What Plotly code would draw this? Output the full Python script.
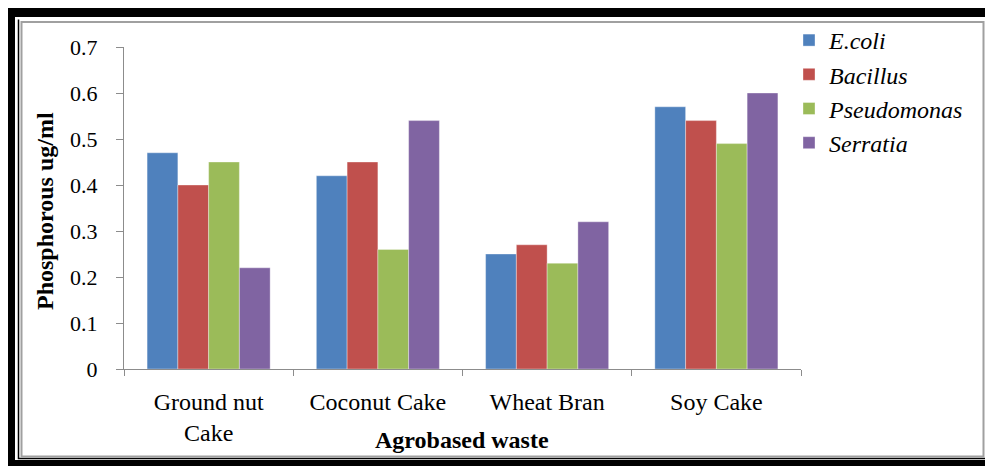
import plotly.graph_objects as go

# Phosphorous released by each bacterium on agro-based waste substrates
categories = ["Ground nut<br>Cake", "Coconut Cake", "Wheat Bran", "Soy Cake"]
series_names = ["E.coli", "Bacillus", "Pseudomonas", "Serratia"]
ecoli = [0.47, 0.42, 0.25, 0.57]
bacillus = [0.40, 0.45, 0.27, 0.54]
pseudomonas = [0.45, 0.26, 0.23, 0.49]
serratia = [0.22, 0.54, 0.32, 0.60]
y_ticks = [0, 0.1, 0.2, 0.3, 0.4, 0.5, 0.6, 0.7]

colors = ["#4F81BD", "#C0504D", "#9BBB59", "#8064A2"]
values = [ecoli, bacillus, pseudomonas, serratia]

W, H = 985, 466
L, R, T, B = 124, 801, 47, 369  # plot area in pixels

SERIF = "Liberation Serif, Times New Roman, serif"
AXIS_GREY = "#8C8C8C"

fig = go.Figure()
for name, vals, col in zip(series_names, values, colors):
    fig.add_trace(go.Bar(
        name=f"<i>{name}</i>",
        x=categories,
        y=vals,
        marker=dict(color=col, line=dict(color="rgba(255,255,255,0.35)", width=1)),
    ))


def px_x(v):
    return (v - L) / (R - L)


def px_y(v):
    return (B - v) / (B - T)


shapes = []
# outer heavy black frame (top, left, bottom bands)
for x0, y0, x1, y1 in [(8, 8, 990, 17), (8, 8, 15, 470), (8, 460, 990, 470)]:
    shapes.append(dict(type="rect", xref="paper", yref="paper",
                       x0=px_x(x0), x1=px_x(x1), y0=px_y(y0), y1=px_y(y1),
                       fillcolor="black", line=dict(width=0), layer="below"))
# thin black inner line
shapes.append(dict(type="path", xref="paper", yref="paper",
                   path=f"M {px_x(18.5)},{px_y(19.5)} L {px_x(18.5)},{px_y(458.5)} L {px_x(985)},{px_y(458.5)}",
                   line=dict(color="black", width=1.5), layer="below"))
# grey chart-area border
shapes.append(dict(type="rect", xref="paper", yref="paper",
                   x0=px_x(21.5), x1=px_x(983.5), y0=px_y(22), y1=px_y(456.5),
                   line=dict(color="#A0A0A0", width=2), layer="below"))

annotations = [
    dict(text="<b>Phosphorous ug/ml</b>", xref="paper", yref="paper",
         x=px_x(45), y=px_y(211), textangle=-90, showarrow=False,
         xanchor="center", yanchor="middle",
         font=dict(family=SERIF, size=24, color="black")),
    dict(text="<b>Agrobased waste</b>", xref="paper", yref="paper",
         x=px_x(462), y=px_y(440), showarrow=False,
         xanchor="center", yanchor="middle",
         font=dict(family=SERIF, size=24, color="black")),
]

fig.update_layout(
    width=W, height=H,
    margin=dict(l=L, r=W - R, t=T, b=H - B),
    paper_bgcolor="white", plot_bgcolor="white",
    barmode="group", bargap=0.273, bargroupgap=0,
    font=dict(family=SERIF, size=22, color="black"),
    showlegend=True,
    legend=dict(
        x=px_x(789), y=px_y(18), xanchor="left", yanchor="top",
        font=dict(family=SERIF, size=24, color="black"),
        bgcolor="rgba(0,0,0,0)", tracegroupgap=0,
    ),
    xaxis=dict(
        showline=True, linecolor=AXIS_GREY, linewidth=1,
        ticks="outside", ticklen=6, tickcolor=AXIS_GREY, tickson="boundaries",
        ticklabelstandoff=11, showgrid=False, zeroline=False,
        tickfont=dict(family=SERIF, size=24, color="black"),
    ),
    yaxis=dict(
        range=[0, 0.7], tickvals=y_ticks, ticktext=[f"{v:g}" for v in y_ticks],
        showline=True, linecolor=AXIS_GREY, linewidth=1,
        ticks="outside", ticklen=7, tickcolor=AXIS_GREY,
        ticklabelstandoff=14, showgrid=False, zeroline=False,
        tickfont=dict(family=SERIF, size=22, color="black"),
    ),
    shapes=shapes,
    annotations=annotations,
)

fig.write_html("out.html")
